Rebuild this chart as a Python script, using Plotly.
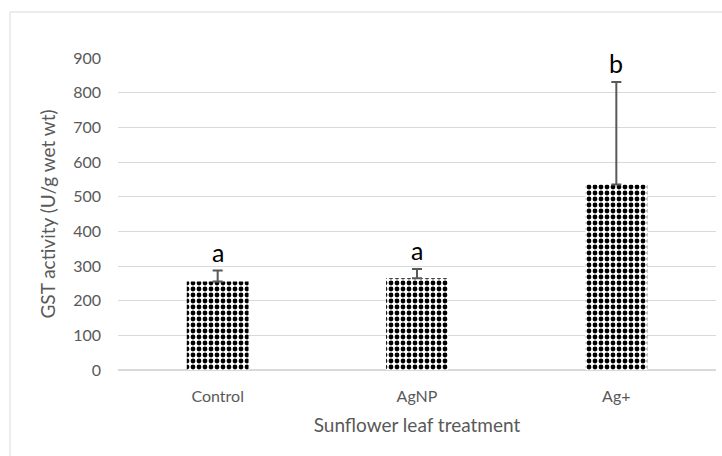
import plotly.graph_objects as go

categories = ["Control", "AgNP", "Ag+"]
values = [255, 265, 535]
err_plus = [32, 26, 296]
letters = ["a", "a", "b"]
y_ticks = [0, 100, 200, 300, 400, 500, 600, 700, 800, 900]

W, H = 722, 456
L, R, T, B = 118, 6, 58, 86
pw, ph = W - L - R, H - T - B

font = "Lato, 'Open Sans', sans-serif"

fig = go.Figure()
fig.add_trace(go.Bar(
    x=categories, y=values,
    marker=dict(color="white", line=dict(width=0),
                pattern=dict(shape=".", size=6, solidity=0.5,
                             fgcolor="black", bgcolor="white", fillmode="replace")),
    error_y=dict(type="data", symmetric=False, array=err_plus,
                 arrayminus=[0] * len(values), color="#595959",
                 thickness=2, width=5),
    width=0.31,
))

for c, v, e, t in zip(categories, values, err_plus, letters):
    fig.add_annotation(x=c, y=v + e, text=t, showarrow=False,
                       yanchor="bottom", yshift=2,
                       font=dict(family=font, size=25, color="black"))

fig.add_shape(type="rect", xref="paper", yref="paper",
              x0=(10 - L) / pw, x1=(W + 5 - L) / pw,
              y0=-(B + 5) / ph, y1=1 + (T - 12) / ph,
              line=dict(color="#d9d9d9", width=1), layer="below")

fig.update_layout(
    width=W, height=H,
    margin=dict(l=L, r=R, t=T, b=B),
    paper_bgcolor="white", plot_bgcolor="white",
    showlegend=False,
    font=dict(family=font, color="#595959"),
    xaxis=dict(title=dict(text="Sunflower leaf treatment",
                          font=dict(size=19, color="#595959"), standoff=14),
               tickfont=dict(size=16, color="#595959"),
               showline=True, linecolor="#d9d9d9", linewidth=1,
               ticks="", ticklabelstandoff=12),
    yaxis=dict(title=dict(text="GST activity (U/g wet wt)",
                          font=dict(size=19, color="#595959"), standoff=12),
               range=[0, 900], tickvals=y_ticks,
               tickfont=dict(size=16, color="#595959"),
               showgrid=True, gridcolor="#d9d9d9", gridwidth=1,
               zeroline=True, zerolinecolor="#d9d9d9",
               ticks="", ticklabelstandoff=16),
)

fig.write_html("out.html")
